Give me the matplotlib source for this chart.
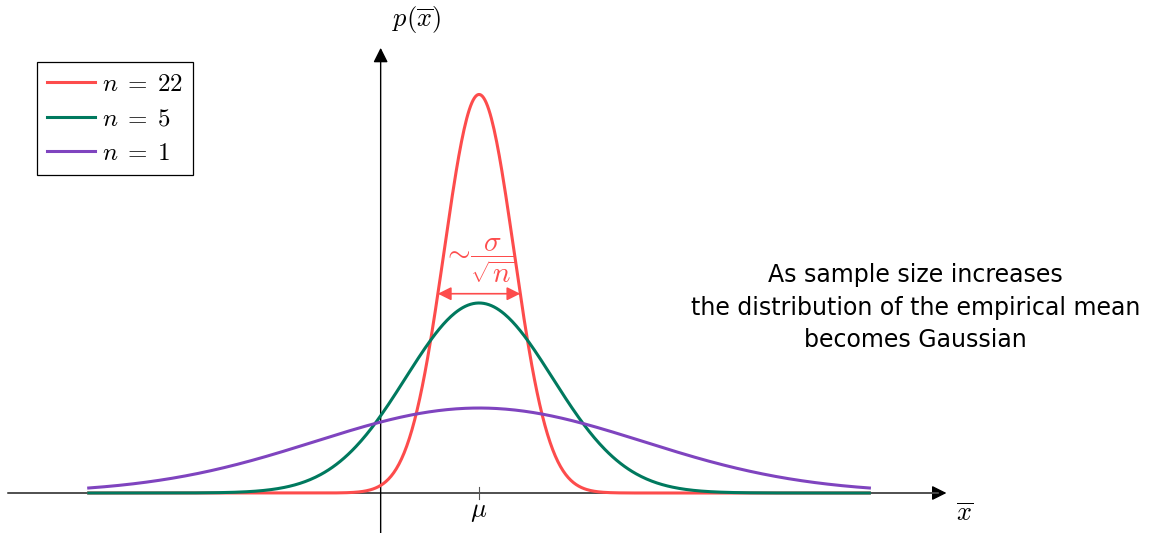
import numpy as np
import matplotlib.pyplot as plt

plt.rcParams['mathtext.fontset'] = 'cm'

# sample sizes and their curve colours
sample_sizes = [22, 5, 1]
colores = ["#fd4c4c", "#00795e", "#7f44bf"]
mu = 0.0
sigma = 1.0
xmin, xmax = -2.38, 2.38

fig = plt.figure(figsize=(11.5, 5.33), dpi=100)
ax = fig.add_axes([0, 0, 1, 1])
ax.set_xlim(-2.921, 4.091)
ax.set_ylim(-0.1878, 2.3146)
ax.axis("off")

# eixos com setas
ax.annotate("", xy=(2.85, 0), xytext=(-2.87, 0),
            arrowprops=dict(arrowstyle="-|>", color="black", lw=1.0,
                            mutation_scale=22, shrinkA=0, shrinkB=0), zorder=1)
ax.plot([-2.87, 2.80], [0, 0], color="#555555", lw=1.2, zorder=1)
ax.annotate("", xy=(-0.6, 2.09), xytext=(-0.6, -0.19),
            arrowprops=dict(arrowstyle="-|>", color="black", lw=1.0,
                            mutation_scale=22, shrinkA=0, shrinkB=0), zorder=1)
ax.plot([mu, mu], [-0.028, 0.028], color="#555555", lw=0.8, zorder=1)

x = np.linspace(xmin, xmax, 600)
for n, c in zip(sample_sizes, colores):
    s = sigma / np.sqrt(n)
    y = np.exp(-0.5 * ((x - mu) / s) ** 2) / (s * np.sqrt(2 * np.pi))
    ax.plot(x, y, color=c, lw=2.2, label=rf"$n\;=\;{n}$", zorder=3)

# largura ~ sigma/sqrt(n) na meia altura da curva mais estreita
s22 = sigma / np.sqrt(sample_sizes[0])
meia = 0.5 / (s22 * np.sqrt(2 * np.pi))
hw = s22 * np.sqrt(2 * np.log(2))
ax.annotate("", xy=(mu + hw, meia), xytext=(mu - hw, meia),
            arrowprops=dict(arrowstyle="<|-|>", color=colores[0], lw=1.2,
                            mutation_scale=20, shrinkA=0, shrinkB=0), zorder=4)
ax.text(mu, meia + 0.035, r"$\sim\!\dfrac{\sigma}{\sqrt{n}}$", color=colores[0],
        fontsize=21, ha="center", va="bottom")

ax.text(mu, -0.085, r"$\mu$", fontsize=19, ha="center", va="center")
ax.text(2.96, -0.1, r"$\overline{x}$", fontsize=19, ha="center", va="center")
ax.text(-0.38, 2.225, r"$p(\overline{x})$", fontsize=19, ha="center", va="center")

ax.text(2.66, 0.87, "As sample size increases\nthe distribution of the empirical mean\nbecomes Gaussian",
        fontsize=17, family="DejaVu Sans", ha="center", va="center", linespacing=1.45)

leg = ax.legend(loc="upper left", bbox_to_anchor=(37 / 1150, 1 - 62 / 533),
                borderaxespad=0, fancybox=False, edgecolor="black", framealpha=1,
                fontsize=18, handlelength=1.9, handletextpad=0.3, labelspacing=0.42,
                borderpad=0.4)
leg.get_frame().set_linewidth(0.9)

plt.savefig("out.png", dpi=100)
